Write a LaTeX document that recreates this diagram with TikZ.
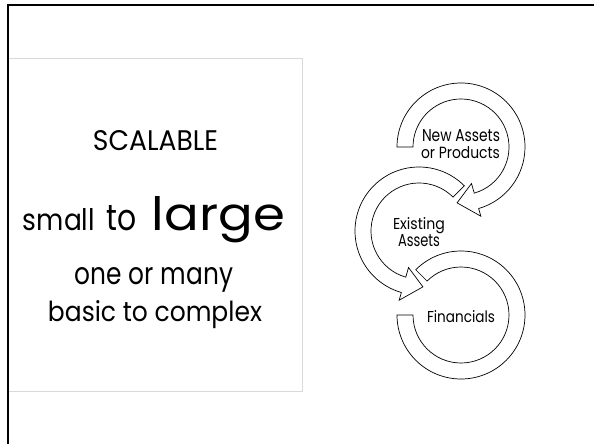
\documentclass[tikz,border=0pt]{standalone}
\usepackage{fontspec}
\setmainfont{Poppins}
\usepackage{graphicx}
\begin{document}
\begin{tikzpicture}[x=1pt,y=-1pt,
  ring/.style={draw=black, line width=0.7pt, fill=white, line join=miter},
  txt/.style={anchor=base, inner sep=0pt, text=black}]
\useasboundingbox (0,0) rectangle (594,444);
\fill[white] (0,0) rectangle (594,444);
\definecolor{boxgray}{RGB}{217,217,217}
% text panel
\draw[draw=boxgray, line width=0.8pt] (8,58) rectangle (302,391);
% slide border
\draw[line width=2.5pt] (8,444) -- (8,5) -- (594,5);

\node[txt] (scal) at (155.5,150) {\resizebox{125pt}{20pt}{SCALABLE}};
\node[txt] (small) at (59,230) {\resizebox{72pt}{22pt}{small}};
\node[txt] (to) at (122,230) {\resizebox{30pt}{25pt}{to}};
\node[txt] (large) at (218.5,230) {\resizebox{133pt}{34pt}{large}};
\node[txt] (one) at (154,284) {\resizebox{158pt}{17pt}{one or many}};
\node[txt] (basic) at (155,321) {\resizebox{214pt}{21pt}{basic to complex}};

% rings
\begin{scope}[shift={(461,315)}]
\draw[ring] (225:64) arc[start angle=225, end angle=540, radius=64] -- (540:48) arc[start angle=540, end angle=225, radius=48] -- cycle;
\end{scope}
\begin{scope}[shift={(419,231)}]
\draw[ring] (315:64) arc[start angle=315, end angle=106, radius=64] -- (106:72) -- (86:56) -- (106:38) -- (106:48) arc[start angle=106, end angle=315, radius=48] -- cycle;
\end{scope}
\begin{scope}[shift={(461,147)}]
\draw[ring] (180:64) arc[start angle=180, end angle=434, radius=64] -- (434:72) -- (454:56) -- (434:38) -- (434:48) arc[start angle=434, end angle=180, radius=48] -- cycle;
\end{scope}

\node[txt] (new1) at (461,141) {\resizebox{78pt}{12pt}{New Assets}};
\node[txt] (new2) at (460.5,158) {\resizebox{79pt}{12pt}{or Products}};
\node[txt] (ex1) at (419,229) {\resizebox{52pt}{12pt}{Existing}};
\node[txt] (ex2) at (419,246) {\resizebox{42pt}{12pt}{Assets}};
\node[txt] (fin) at (461,322) {\resizebox{68pt}{12pt}{Financials}};
\end{tikzpicture}
\end{document}
